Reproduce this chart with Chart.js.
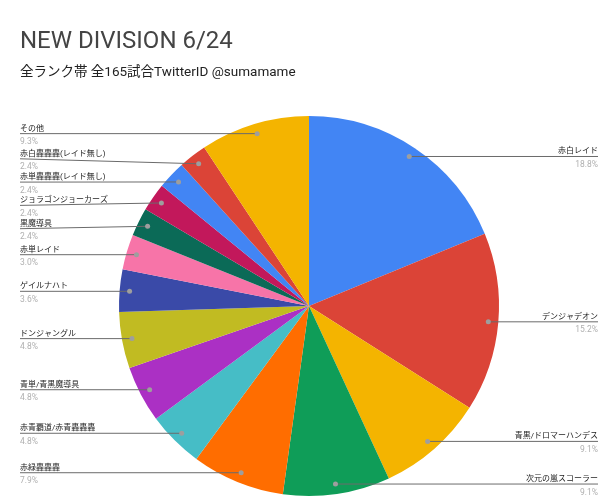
<!DOCTYPE html>
<html>
<head>
<meta charset="utf-8">
<script src="https://cdn.jsdelivr.net/npm/chart.js@4"></script>
<style>
  html, body { margin: 0; padding: 0; background: #fff; }
  #wrap { width: 604px; height: 501px; position: relative; }
</style>
</head>
<body>
<div id="wrap"><canvas id="chart"></canvas></div>
<script>
const titleText = 'NEW DIVISION 6/24';
const subtitleText = '全ランク帯 全165試合TwitterID @sumamame';

const decks = [
  '赤白レイド', 'デンジャデオン', '青黒/ドロマーハンデス', '次元の嵐スコーラー', '赤緑轟轟轟',
  '赤青覇道/赤青轟轟轟', '青単/青黒魔導具', 'ドンジャングル', 'ゲイルナハト', '赤単レイド',
  '黒魔導具', 'ジョラゴンジョーカーズ', '赤単轟轟轟(レイド無し)', '赤白轟轟轟(レイド無し)', 'その他'
];
const shares = [18.8, 15.2, 9.1, 9.1, 7.9, 4.8, 4.8, 4.8, 3.6, 3.0, 2.4, 2.4, 2.4, 2.4, 9.3];
const sliceColors = [
  '#4285f4', '#db4437', '#f4b400', '#0f9d58', '#ff6d00',
  '#46bdc6', '#ab30c4', '#c1bb22', '#3a4aa8', '#f774a8',
  '#0b6a57', '#c2185b', '#4285f4', '#db4437', '#f4b400'
];

const FONT = 'Roboto, "Noto Sans CJK JP", sans-serif';

// leader-line labels, left/right of the pie, pushed apart when they collide
const sideLabels = {
  id: 'sideLabels',
  afterDraw(chart) {
    const ctx = chart.ctx;
    const meta = chart.getDatasetMeta(0);
    const gap = 23.3;
    const items = meta.data.map((arc, i) => {
      const mid = (arc.startAngle + arc.endAngle) / 2;
      const r = arc.outerRadius - 10;
      const x = arc.x + Math.cos(mid) * r;
      const y = arc.y + Math.sin(mid) * r;
      return { i, x, y, ny: y, left: x < arc.x };
    });

    [true, false].forEach(side => {
      const list = items.filter(d => d.left === side).sort((a, b) => a.ny - b.ny);
      let clusters = list.map(d => ({ items: [d], top: d.ny }));
      let merged = true;
      while (merged) {
        merged = false;
        for (let k = 0; k < clusters.length - 1; k++) {
          const a = clusters[k], b = clusters[k + 1];
          if (a.top + (a.items.length - 1) * gap + gap > b.top) {
            const all = a.items.concat(b.items);
            const mean = all.reduce((s, d) => s + d.ny, 0) / all.length;
            clusters.splice(k, 2, { items: all, top: mean - (all.length - 1) * gap / 2 });
            merged = true;
            break;
          }
        }
      }
      clusters.forEach(c => c.items.forEach((d, j) => { d.ly = c.top + j * gap; }));
    });

    ctx.save();
    items.forEach(d => {
      const lx = d.left ? 20 : 598;
      ctx.strokeStyle = '#6b6b6b';
      ctx.lineWidth = 1;
      ctx.beginPath();
      ctx.moveTo(lx, d.ly);
      ctx.lineTo(d.x, d.y);
      ctx.stroke();

      ctx.fillStyle = '#9e9e9e';
      ctx.beginPath();
      ctx.arc(d.x, d.y, 2.5, 0, Math.PI * 2);
      ctx.fill();

      ctx.textAlign = d.left ? 'left' : 'right';
      ctx.textBaseline = 'alphabetic';
      ctx.fillStyle = '#222';
      ctx.font = '8px ' + FONT;
      ctx.fillText(decks[d.i], lx, d.ly - 3);
      ctx.fillStyle = '#b0b0b0';
      ctx.font = '8.5px ' + FONT;
      ctx.fillText(shares[d.i].toFixed(1) + '%', lx, d.ly + 10.5);
    });

    ctx.textAlign = 'left';
    ctx.fillStyle = '#444';
    ctx.font = '24px ' + FONT;
    ctx.fillText(titleText, 20, 48);
    ctx.fillStyle = '#222';
    ctx.font = '13.5px ' + FONT;
    ctx.fillText(subtitleText, 20, 76);
    ctx.restore();
  }
};

new Chart(document.getElementById('chart'), {
  type: 'pie',
  data: {
    labels: decks,
    datasets: [{
      data: shares,
      backgroundColor: sliceColors,
      borderWidth: 0
    }]
  },
  options: {
    responsive: true,
    maintainAspectRatio: false,
    animation: false,
    layout: { padding: { left: 119, right: 105, top: 116, bottom: 5 } },
    plugins: {
      legend: { display: false },
      tooltip: { enabled: false }
    }
  },
  plugins: [sideLabels]
});
</script>
</body>
</html>
